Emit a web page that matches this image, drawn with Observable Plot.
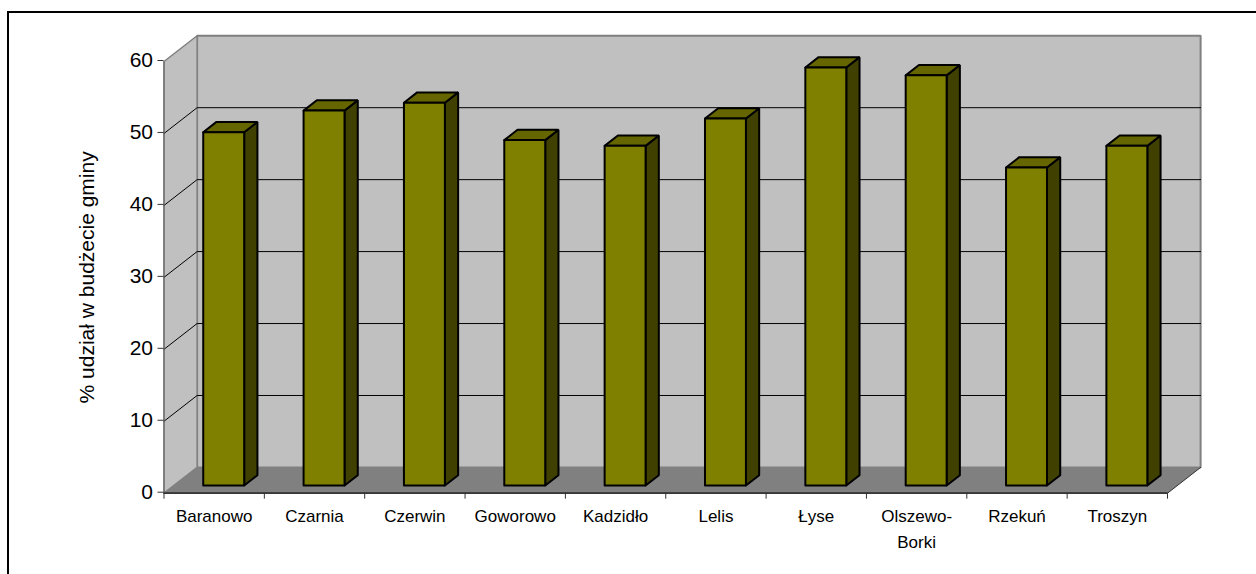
<!DOCTYPE html>
<html><head><meta charset="utf-8">
<script src="https://cdn.jsdelivr.net/npm/d3@7"></script>
<script src="https://cdn.jsdelivr.net/npm/@observablehq/plot@0.6"></script>
<style>
html,body{margin:0;padding:0;background:#fff;overflow:hidden}
#frame{position:absolute;left:7px;top:11px;right:-4px;bottom:-4px;border-left:2px solid #000;border-top:2px solid #000}
#chart{position:absolute;left:0;top:0}
</style></head><body>
<div id="frame"></div><div id="chart"></div>
<script>
const categories = ["Baranowo","Czarnia","Czerwin","Goworowo","Kadzidło","Lelis","Łyse","Olszewo-\nBorki","Rzekuń","Troszyn"];
const shares = [49.1,52.1,53.2,48,47.2,51,58.1,57,44.2,47.2];
const yTicks = [0,10,20,30,40,50,60];
const gridValues = [10,20,30,40,50];
const boundaries = d3.range(0,11);
const yLabel = "% udział w budżecie gminy";

// oblique projection: a depth of 1 shifts a point by this much in data units
const depthX = 0.33, depthY = 3.58;
const P = (x,y,d=0)=>({x:x+d*depthX,y:y+d*depthY});
const poly = (id,pts)=>pts.map(([x,y,d])=>({id,...P(x,y,d)}));

const backWall = poly("b",[[0,0,1],[10,0,1],[10,60,1],[0,60,1],[0,0,1]]);
const leftWall = poly("l",[[0,0,0],[0,0,1],[0,60,1],[0,60,0],[0,0,0]]);
const floor = poly("f",[[0,0,0],[10,0,0],[10,0,1],[0,0,1],[0,0,0]]);
const floorEdge = poly("e",[[10,0,0],[10,0,1]]);
const grid = gridValues.flatMap(v=>poly("g"+v,[[0,v,0],[0,v,1],[10,v,1]]));

const bl=0.292, br=0.7, d0=0.3, d1=0.7;
const fronts=[],tops=[],sides=[];
shares.forEach((v,i)=>{
  const a=i+bl,b=i+br;
  fronts.push(...poly("c"+i,[[a,0,d0],[b,0,d0],[b,v,d0],[a,v,d0],[a,0,d0]]));
  tops.push(...poly("c"+i,[[a,v,d0],[b,v,d0],[b,v,d1],[a,v,d1],[a,v,d0]]));
  sides.push(...poly("c"+i,[[b,0,d0],[b,0,d1],[b,v,d1],[b,v,d0],[b,0,d0]]));
});
const L=(data,o)=>Plot.line(data,{x:"x",y:"y",z:"id",strokeLinejoin:"miter",...o});

const plot = Plot.plot({
  width:1256,height:574,
  marginLeft:163.5,marginRight:89,marginTop:61,marginBottom:81.3,
  style:{fontFamily:"'Liberation Sans',Arial,sans-serif",background:"transparent",color:"#000"},
  x:{type:"linear",domain:[0,10]},
  y:{type:"linear",domain:[0,60]},
  marks:[
    L(backWall,{fill:"#c0c0c0",stroke:"#808080",strokeWidth:2}),
    L(leftWall,{fill:"#c0c0c0",stroke:"#808080",strokeWidth:1.5}),
    L(floor,{fill:"#808080",stroke:"none"}),
    L(grid,{stroke:"#000",strokeWidth:1}),
    L(floorEdge,{stroke:"#333",strokeWidth:1}),
    L(sides,{fill:"#404000",stroke:"#000",strokeWidth:2}),
    L(tops,{fill:"#666600",stroke:"#000",strokeWidth:2}),
    L(fronts,{fill:"#808000",stroke:"#000",strokeWidth:2}),
    Plot.ruleY([0],{stroke:"#000",strokeWidth:1.3}),
    Plot.ruleX([0],{stroke:"#666",strokeWidth:1}),
    Plot.axisY({ticks:yTicks,tickSize:6,tickPadding:5,fontSize:21,dy:-1,stroke:"#333",
      label:null,tickFormat:d=>d}),
    Plot.text([yLabel],{text:d=>d,frameAnchor:"left",textAnchor:"middle",rotate:-90,dx:-76.5,fontSize:21,fill:"#000"}),
    Plot.axisX({ticks:boundaries,tickSize:6,tickFormat:()=>"",stroke:"#333",label:null}),
    Plot.axisX({ticks:boundaries.slice(0,10).map(d=>d+0.5),tickSize:0,tickPadding:11,
      tickFormat:d=>categories[d-0.5],fontSize:17,lineHeight:1.5,lineAnchor:"top",label:null,textOverflow:null})
  ]
});
document.getElementById("chart").append(plot);
</script></body></html>
